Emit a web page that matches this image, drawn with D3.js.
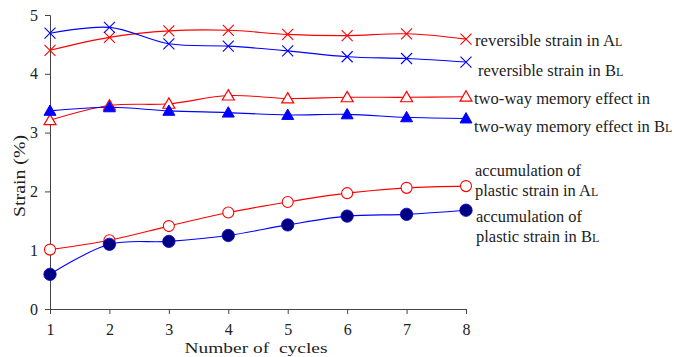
<!DOCTYPE html>
<html>
<head>
<meta charset="utf-8">
<script src="https://cdn.jsdelivr.net/npm/d3@7"></script>
<style>
  body { margin: 0; background: #fff; }
</style>
</head>
<body>
<svg id="chart" width="674" height="357"></svg>
<script>
const cycles = [1, 2, 3, 4, 5, 6, 7, 8]
const yTicks = [0, 1, 2, 3, 4, 5]
const reversibleA = [4.40, 4.62, 4.73, 4.74, 4.67, 4.65, 4.68, 4.59]
const reversibleB = [4.69, 4.79, 4.51, 4.47, 4.39, 4.29, 4.26, 4.20]
const twoWayA = [3.21, 3.46, 3.49, 3.63, 3.58, 3.60, 3.60, 3.61]
const twoWayB = [3.37, 3.43, 3.37, 3.34, 3.30, 3.31, 3.26, 3.24]
const plasticA = [1.01, 1.17, 1.41, 1.64, 1.82, 1.97, 2.06, 2.09]
const plasticB = [0.59, 1.10, 1.15, 1.25, 1.43, 1.58, 1.61, 1.68]

const FONT = "'Liberation Serif', 'Times New Roman', serif"

// label rows: [text, small-caps suffix, width]
const series = [
  {values: reversibleA, color: '#ff0000', marker: 'x', label: [['reversible strain in A', 'L', 148]], lx: 475, ly: 46},
  {values: reversibleB, color: '#0000ff', marker: 'x', label: [['reversible strain in B', 'L', 146]], lx: 478, ly: 76},
  {values: twoWayA, color: '#ff0000', marker: 'triOpen', label: [['two-way memory effect in', '', 176]], lx: 474, ly: 104},
  {values: twoWayB, color: '#0000ff', marker: 'triFill', label: [['two-way memory effect in B', 'L', 199]], lx: 474, ly: 132},
  {values: plasticA, color: '#ff0000', marker: 'circOpen', label: [['accumulation of', '', 106], ['plastic strain in A', 'L', 124]], lx: 475, ly: 176},
  {values: plasticB, color: '#0000ff', marker: 'circFill', label: [['accumulation of', '', 106], ['plastic strain in B', 'L', 124]], lx: 476, ly: 222}
]

const svg = d3.select('#chart')
const x = d3.scaleLinear().domain([1, 8]).range([50, 466])
const y = d3.scaleLinear().domain([0, 5]).range([309, 15])

// axes
const xAxis = svg.append('g')
  .attr('transform', 'translate(0,' + y(0) + ')')
  .call(d3.axisBottom(x).tickValues(cycles).tickSize(5).tickFormat(d3.format('d')))
const yAxis = svg.append('g')
  .attr('transform', 'translate(' + x(1) + ',0)')
  .call(d3.axisLeft(y).tickValues(yTicks).tickSize(5).tickFormat(d3.format('d')))
for (let ax of [xAxis, yAxis]) {
  ax.attr('font-family', null).attr('font-size', null)
  ax.select('.domain').attr('stroke', '#444')
  ax.selectAll('.tick line').attr('stroke', '#444')
  ax.selectAll('.tick text').style('font-family', FONT).style('font-size', '16px').attr('fill', '#222')
}
xAxis.selectAll('.tick text').attr('y', 15)
yAxis.selectAll('.tick text').attr('x', -12)

svg.append('text')
  .attr('x', 256).attr('y', 353)
  .attr('text-anchor', 'middle')
  .attr('textLength', 143)
  .attr('lengthAdjust', 'spacingAndGlyphs')
  .style('font-family', FONT)
  .style('font-size', '15px')
  .style('white-space', 'pre')
  .attr('fill', '#222')
  .text('Number of  cycles')
svg.append('text')
  .attr('transform', 'translate(25,176) rotate(-90)')
  .attr('text-anchor', 'middle')
  .attr('textLength', 82)
  .attr('lengthAdjust', 'spacingAndGlyphs')
  .style('font-family', FONT)
  .style('font-size', '17px')
  .attr('fill', '#222')
  .text('Strain (%)')

const line = d3.line()
  .x((d, i) => x(cycles[i]))
  .y(d => y(d))
  .curve(d3.curveCatmullRom.alpha(0.5))

const tri = d3.symbol().type(d3.symbolTriangle).size(62)
const circ = d3.symbol().type(d3.symbolCircle).size(95)
const circBig = d3.symbol().type(d3.symbolCircle).size(120)

for (let s of series) {
  svg.append('path')
    .attr('d', line(s.values))
    .attr('fill', 'none')
    .attr('stroke', s.color)
    .attr('stroke-width', 1.1)

  let g = svg.append('g')
  let pts = g.selectAll('g').data(s.values).enter().append('g')
    .attr('transform', (d, i) => 'translate(' + x(cycles[i]) + ',' + y(d) + ')')
  if (s.marker === 'x') {
    pts.append('path')
      .attr('d', 'M-5.5,-5.5L5.5,5.5M-5.5,5.5L5.5,-5.5')
      .attr('stroke', s.color).attr('stroke-width', 1.1).attr('fill', 'none')
  } else if (s.marker === 'triOpen') {
    pts.append('path').attr('d', tri).attr('transform', 'translate(0,1)')
      .attr('fill', '#fff').attr('stroke', s.color).attr('stroke-width', 1.2)
  } else if (s.marker === 'triFill') {
    pts.append('path').attr('d', tri).attr('transform', 'translate(0,1)')
      .attr('fill', s.color).attr('stroke', s.color).attr('stroke-width', 1)
  } else if (s.marker === 'circOpen') {
    pts.append('path').attr('d', circ)
      .attr('fill', '#fff').attr('stroke', s.color).attr('stroke-width', 1.1)
  } else {
    pts.append('path').attr('d', circBig)
      .attr('fill', '#000080').attr('stroke', '#0000cc').attr('stroke-width', 0.8)
  }

  s.label.forEach((row, k) => {
    let t = svg.append('text')
      .attr('x', s.lx).attr('y', s.ly + k * 20)
      .style('font-family', FONT)
      .style('font-size', '16.5px')
      .attr('fill', '#222')
    let main = t.append('tspan').text(row[0])
    if (row[1]) {
      t.append('tspan').style('font-size', '12px').text(row[1])
      main.attr('textLength', row[2] - 8).attr('lengthAdjust', 'spacingAndGlyphs')
    } else {
      main.attr('textLength', row[2]).attr('lengthAdjust', 'spacingAndGlyphs')
    }
  })
}
</script>
</body>
</html>
